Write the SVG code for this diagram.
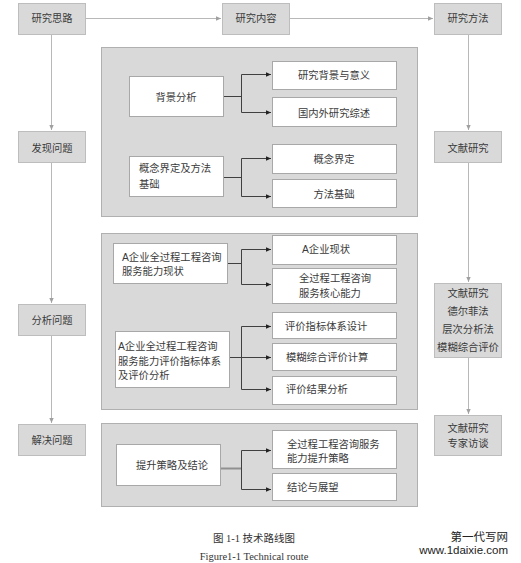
<svg xmlns="http://www.w3.org/2000/svg" width="521" height="563" viewBox="0 0 521 563">
<style>
text{font-family:"Liberation Sans","Noto Sans CJK SC",sans-serif;font-size:10.3px;fill:#3a3a3a}
.g{fill:#d9d9d9;stroke:#bdbdbd;stroke-width:1}
.p{fill:#d9d9d9;stroke:#b0b0b0;stroke-width:1}
.w{fill:#fff;stroke:#a8a8a8;stroke-width:1}
.c{text-anchor:middle}
.ol{fill:none;stroke:#b8b8b8;stroke-width:1}
.il{fill:none;stroke:#404040;stroke-width:1}
.cap{font-family:"Liberation Serif","Noto Sans CJK SC",serif;font-size:10.5px;fill:#333}
</style>
<defs>
<marker id="ga" markerWidth="6" markerHeight="6" refX="5" refY="3" orient="auto" markerUnits="userSpaceOnUse"><path d="M0,0.8 L5,3 L0,5.2 z" fill="#a0a0a0"/></marker>
<marker id="ba" markerWidth="6" markerHeight="6" refX="5" refY="3" orient="auto" markerUnits="userSpaceOnUse"><path d="M0,0.8 L5,3 L0,5.2 z" fill="#222"/></marker>
</defs>
<rect width="521" height="563" fill="#fff"/>
<g id="panel1"><rect class="p" x="101.5" y="47.5" width="316" height="169"/></g>
<g id="panel2"><rect class="p" x="101.5" y="233.5" width="316" height="176"/></g>
<g id="panel3"><rect class="p" x="101.5" y="423.5" width="316" height="83"/></g>
<g id="connectors">
<path class="ol" d="M85,18.5 H221" marker-end="url(#ga)"/>
<path class="ol" d="M289,18.5 H433" marker-end="url(#ga)"/>
<path class="ol" d="M51.5,34 V130" marker-end="url(#ga)"/>
<path class="ol" d="M51.5,162 V303" marker-end="url(#ga)"/>
<path class="ol" d="M51.5,335 V423" marker-end="url(#ga)"/>
<path class="ol" d="M468.5,34 V130" marker-end="url(#ga)"/>
<path class="ol" d="M468.5,162 V282" marker-end="url(#ga)"/>
<path class="ol" d="M468.5,357 V414" marker-end="url(#ga)"/>
<path class="il" d="M223,96.5 H241.5"/>
<path class="il" d="M241.5,74.5 V112.5"/>
<path class="il" d="M241.5,74.5 H271" marker-end="url(#ba)"/>
<path class="il" d="M241.5,112.5 H271" marker-end="url(#ba)"/>
<path class="il" d="M223,177.5 H241.5"/>
<path class="il" d="M241.5,158.5 V196.5"/>
<path class="il" d="M241.5,158.5 H271" marker-end="url(#ba)"/>
<path class="il" d="M241.5,196.5 H271" marker-end="url(#ba)"/>
<path class="il" d="M227,263.5 H241.5"/>
<path class="il" d="M241.5,249.5 V284.5"/>
<path class="il" d="M241.5,249.5 H271" marker-end="url(#ba)"/>
<path class="il" d="M241.5,284.5 H271" marker-end="url(#ba)"/>
<path class="il" d="M229,357.5 H271" marker-end="url(#ba)"/>
<path class="il" d="M241.5,326.5 V389.5"/>
<path class="il" d="M241.5,326.5 H271" marker-end="url(#ba)"/>
<path class="il" d="M241.5,389.5 H271" marker-end="url(#ba)"/>
<path d="M220,468.5 H241.5" fill="none" stroke="#909090" stroke-width="2"/>
<path class="il" d="M241.5,450.5 V489.5"/>
<path class="il" d="M241.5,450.5 H271" marker-end="url(#ba)"/>
<path class="il" d="M241.5,489.5 H271" marker-end="url(#ba)"/>
</g>
<g id="n-silu"><rect class="g" x="18.5" y="3.5" width="67" height="31"/><text class="c" x="52" y="22">研究思路</text></g>
<g id="n-neirong"><rect class="g" x="222.5" y="3.5" width="67" height="31"/><text class="c" x="256" y="22">研究内容</text></g>
<g id="n-fangfa"><rect class="g" x="434.5" y="3.5" width="67" height="31"/><text class="c" x="468" y="22">研究方法</text></g>
<g id="n-faxian"><rect class="g" x="18.5" y="131.5" width="67" height="31"/><text class="c" x="52" y="151.5">发现问题</text></g>
<g id="n-fenxi"><rect class="g" x="18.5" y="304.5" width="67" height="31"/><text class="c" x="52" y="323.5">分析问题</text></g>
<g id="n-jiejue"><rect class="g" x="18.5" y="424.5" width="67" height="31"/><text class="c" x="52" y="443.5">解决问题</text></g>
<g id="m-wenxian"><rect class="g" x="434.5" y="131.5" width="67" height="31"/><text class="c" x="468" y="151.5">文献研究</text></g>
<g id="m-multi"><rect class="g" x="434.5" y="283.5" width="67" height="74"/><text class="c" x="468" y="297">文献研究</text><text class="c" x="468" y="315">德尔菲法</text><text class="c" x="468" y="332.5">层次分析法</text><text class="c" x="468" y="350.5">模糊综合评价</text></g>
<g id="m-zhuanjia"><rect class="g" x="434.5" y="415.5" width="67" height="40"/><text class="c" x="468" y="431.5">文献研究</text><text class="c" x="468" y="446.5">专家访谈</text></g>
<g id="b-beijing"><rect class="w" x="129.5" y="76.5" width="94" height="40"/><text class="c" x="176" y="100.5">背景分析</text></g>
<g id="b-yiyi"><rect class="w" x="272.5" y="61.5" width="124" height="28"/><text class="c" x="334" y="79">研究背景与意义</text></g>
<g id="b-zongshu"><rect class="w" x="272.5" y="97.5" width="124" height="29"/><text class="c" x="334" y="116.5">国内外研究综述</text></g>
<g id="b-gainian"><rect class="w" x="129.5" y="156.5" width="94" height="40"/><text x="139" y="172">概念界定及方法</text><text x="139" y="188">基础</text></g>
<g id="b-jieding"><rect class="w" x="272.5" y="144.5" width="124" height="29"/><text class="c" x="334" y="163">概念界定</text></g>
<g id="b-jichu"><rect class="w" x="272.5" y="179.5" width="124" height="28"/><text class="c" x="334" y="197.5">方法基础</text></g>
<g id="b-xianzhuang"><rect class="w" x="113.5" y="243.5" width="114" height="40"/><text x="122" y="261">A企业全过程工程咨询</text><text x="122" y="275">服务能力现状</text></g>
<g id="b-aqiye"><rect class="w" x="272.5" y="235.5" width="124" height="29"/><text x="302" y="253">A企业现状</text></g>
<g id="b-hexin"><rect class="w" x="272.5" y="268.5" width="124" height="35"/><text x="299" y="282">全过程工程咨询</text><text x="299" y="297">服务核心能力</text></g>
<g id="b-pingjia"><rect class="w" x="115.5" y="331.5" width="114" height="56"/><text x="118" y="350">A企业全过程工程咨询</text><text x="118" y="365">服务能力评价指标体系</text><text x="118" y="379">及评价分析</text></g>
<g id="b-sheji"><rect class="w" x="272.5" y="312.5" width="124" height="26"/><text x="285" y="330">评价指标体系设计</text></g>
<g id="b-jisuan"><rect class="w" x="272.5" y="343.5" width="124" height="27"/><text x="286" y="361">模糊综合评价计算</text></g>
<g id="b-jieguo"><rect class="w" x="272.5" y="376.5" width="124" height="28"/><text x="286" y="393">评价结果分析</text></g>
<g id="b-tisheng"><rect class="w" x="116.5" y="444.5" width="104" height="41"/><text class="c" x="172" y="469">提升策略及结论</text></g>
<g id="b-celue"><rect class="w" x="272.5" y="430.5" width="124" height="38"/><text x="287" y="448">全过程工程咨询服务</text><text x="287" y="462">能力提升策略</text></g>
<g id="b-zhanwang"><rect class="w" x="272.5" y="473.5" width="124" height="27"/><text x="287" y="491">结论与展望</text></g>
<text class="cap" x="254" y="542" text-anchor="middle">图 1-1 技术路线图</text>
<text class="cap" x="254" y="560" text-anchor="middle" font-size="9.5px">Figure1-1 Technical route</text>
<text x="508" y="541" text-anchor="end" style="font-size:11.5px;fill:#222">第一代写网</text>
<text x="508" y="554" text-anchor="end" style="font-size:11.5px;fill:#222">www.1daixie.com</text>
</svg>
